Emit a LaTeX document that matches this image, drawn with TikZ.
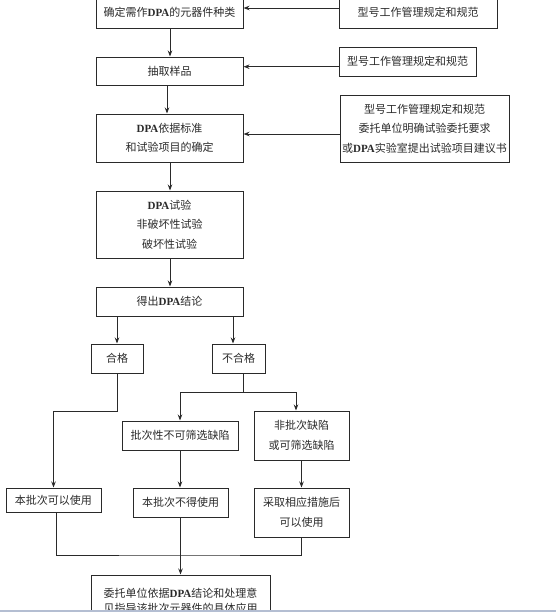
\documentclass[tikz,border=0pt]{standalone}
\usepackage{fontspec}
\setmainfont{Noto Sans CJK SC}
\newfontfamily\latfont{Liberation Serif}
\usetikzlibrary{arrows.meta}
\newcommand\dpa{{\latfont\bfseries DPA}}
\definecolor{ln}{HTML}{2A2A2A}
\definecolor{bar}{HTML}{B4BED2}
\tikzset{
  box/.style={draw=ln, line width=1pt, rectangle, inner sep=0pt, align=center,
    font=\fontsize{11}{19.5}\selectfont, text=ln},
  arr/.style={draw=ln, line width=0.9pt, -{Stealth[length=6pt,width=4.5pt]}},
  con/.style={draw=ln, line width=0.9pt},
}
\begin{document}
\begin{tikzpicture}[x=1pt,y=-1pt]
\useasboundingbox (0,0) rectangle (556,614);
% left column
\node[box, minimum width=147pt, minimum height=31pt] (b1) at (169.5,12.5) {确定需作\dpa 的元器件种类};
\node[box, minimum width=147pt, minimum height=28pt] (b2) at (169.5,71) {抽取样品};
\node[box, minimum width=147pt, minimum height=48pt] (b3) at (169.5,138) {\dpa 依据标准\\和试验项目的确定};
\node[box, minimum width=147pt, minimum height=67pt] (b4) at (169.5,224.5) {\dpa 试验\\非破坏性试验\\破坏性试验};
\node[box, minimum width=147pt, minimum height=29pt] (b5) at (169.5,301.5) {得出\dpa 结论};
% right column
\node[box, minimum width=158pt, minimum height=31pt] (r1) at (418,12.5) {型号工作管理规定和规范};
\node[box, minimum width=137pt, minimum height=29pt] (r2) at (407.5,61.5) {型号工作管理规定和规范};
\node[box, minimum width=169pt, minimum height=67pt] (r3) at (424.5,128.5) {型号工作管理规定和规范\\委托单位明确试验委托要求\\或\dpa 实验室提出试验项目建议书};
% branches
\node[box, minimum width=52pt, minimum height=29pt] (hg) at (117,358.5) {合格};
\node[box, minimum width=53pt, minimum height=29pt] (bhg) at (238.5,358.5) {不合格};
\node[box, minimum width=116pt, minimum height=29pt] (pc) at (180,435.5) {批次性不可筛选缺陷};
\node[box, minimum width=95pt, minimum height=49pt] (fpc) at (301.5,435.5) {非批次缺陷\\或可筛选缺陷};
\node[box, minimum width=95pt, minimum height=24pt] (ky) at (53.5,500) {本批次可以使用};
\node[box, minimum width=95pt, minimum height=29pt] (bd) at (180.5,502.5) {本批次不得使用};
\node[box, minimum width=95pt, minimum height=49pt] (cq) at (301.5,512.5) {采取相应措施后\\可以使用};
\node[box, minimum width=179pt, minimum height=52pt, font=\fontsize{11}{15}\selectfont] (fin) at (180.5,601) {委托单位依据\dpa 结论和处理意\\见指导该批次元器件的具体应用};
% coordinates
\coordinate (j) at (243,392);
\coordinate (m) at (180,555);
% vertical flow
\draw[arr] ([xshift=0.5pt]b1.south) -- ([xshift=0.5pt]b2.north);
\draw[arr] ([xshift=-2.5pt]b2.south) -- ([xshift=-2.5pt]b3.north);
\draw[arr] ([xshift=0.5pt]b3.south) -- ([xshift=0.5pt]b4.north);
\draw[arr] ([xshift=0.5pt]b4.south) -- ([xshift=0.5pt]b5.north);
% inputs from right
\draw[arr] (r1.west |- 0,8) -- (b1.east |- 0,8);
\draw[arr] (r2.west |- 0,66.7) -- (b2.east |- 0,66.7);
\draw[arr] (r3.west |- 0,134) -- (b3.east |- 0,134);
% conclusion split
\draw[arr] (hg.north |- b5.south) -- (hg.north);
\draw[arr] ([xshift=-5.5pt]bhg.north |- b5.south) -- ([xshift=-5.5pt]bhg.north);
\draw[con] ([xshift=4.5pt]bhg.south) -- (j);
\draw[arr] (j) -| (pc.north);
\draw[arr] (j) -| ([xshift=-5.5pt]fpc.north);
\draw[arr] (hg.south) -- ++(0,38) -| (ky.north);
\draw[arr] (pc.south) -- (pc.south |- bd.north);
\draw[arr] (fpc.south) -- (fpc.south |- cq.north);
% merge
\draw[con] ([xshift=2.5pt]ky.south) |- (m) -| (cq.south);
\draw[arr] (bd.south) -- (fin.north -| bd.south);
% screenshot bar at the bottom
\fill[white] (0,611) rectangle (556,614);
\draw[bar, line width=1.5pt] (0,611) -- (556,611);
\end{tikzpicture}
\end{document}
